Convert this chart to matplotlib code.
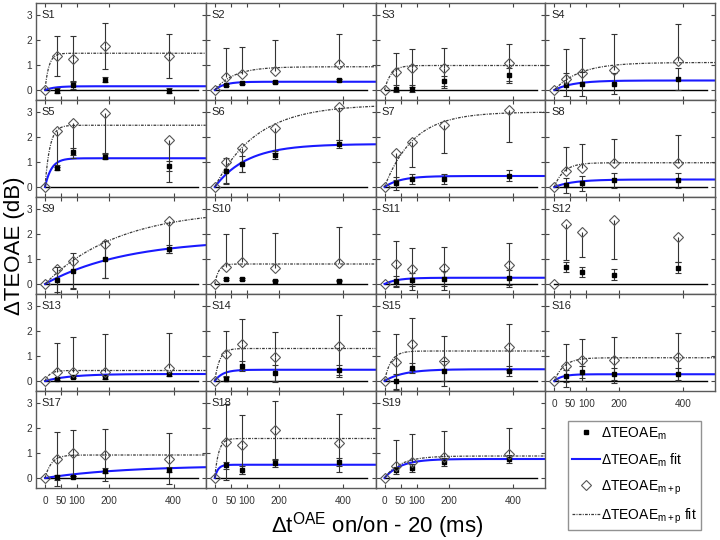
import matplotlib
matplotlib.use('Agg')
import matplotlib.pyplot as plt
import numpy as np
from matplotlib.lines import Line2D

plt.rcParams['font.family'] = ['Liberation Sans', 'DejaVu Sans']
plt.rcParams['mathtext.fontset'] = 'custom'
plt.rcParams['mathtext.rm'] = 'Liberation Sans'
plt.rcParams['mathtext.it'] = 'Liberation Sans:italic'
plt.rcParams['mathtext.bf'] = 'Liberation Sans:bold'

# ---------------- data ----------------
subjects = ['S%d' % k for k in range(1, 20)]
dt = [36, 86, 186, 386]                      # delta t (ms)
xticks = [0, 50, 100, 200, 400]
xticklabels = ['0', '50', '100', '200', '400']
yticks = [0, 1, 2, 3]
yticklabels = ['0', '1', '2', '3']

# Delta TEOAE_m (squares) and its SD
m_mean = [
    [-0.03, 0.20, 0.40, -0.03], [0.20, 0.27, 0.32, 0.39], [0.05, 0.05, 0.36, 0.61], [0.21, 0.24, 0.25, 0.44],
    [0.77, 1.41, 1.21, 0.85], [0.65, 0.92, 1.28, 1.72], [0.15, 0.33, 0.32, 0.45], [0.08, 0.16, 0.27, 0.27],
    [0.16, 0.52, 0.99, 1.40], [0.19, 0.19, 0.13, 0.13], [0.12, 0.17, 0.21, 0.25], [0.67, 0.47, 0.37, 0.65],
    [0.09, 0.16, 0.15, 0.27], [0.09, 0.60, 0.33, 0.45], [0.00, 0.53, 0.40, 0.40], [0.20, 0.36, 0.29, 0.27],
    [0.04, 0.05, 0.29, 0.33], [0.51, 0.32, 0.59, 0.65], [0.31, 0.41, 0.64, 0.77]]
m_sd = [
    [0.10, 0.15, 0.10, 0.10], [0.05, 0.05, 0.05, 0.05], [0.15, 0.15, 0.20, 0.25], [0.45, 0.47, 0.43, 0.43],
    [0.10, 0.15, 0.10, 0.20], [0.50, 0.30, 0.15, 0.15], [0.25, 0.20, 0.20, 0.22], [0.30, 0.30, 0.30, 0.30],
    [0.50, 0.70, 0.74, 0.15], [0.03, 0.03, 0.03, 0.03], [0.20, 0.27, 0.30, 0.30], [0.20, 0.20, 0.23, 0.22],
    [0.05, 0.05, 0.05, 0.05], [0.10, 0.20, 0.33, 0.20], [0.30, 0.20, 0.40, 0.20], [0.25, 0.25, 0.25, 0.25],
    [0.10, 0.05, 0.10, 0.10], [0.15, 0.15, 0.15, 0.15], [0.15, 0.15, 0.15, 0.15]]

# Delta TEOAE_m+p (diamonds) with upper / lower error bar lengths (0 = not drawn)
mp_mean = [
    [1.37, 1.24, 1.76, 1.36], [0.53, 0.64, 0.77, 1.03], [0.72, 0.89, 0.89, 1.07], [0.44, 0.68, 0.80, 1.15],
    [2.24, 2.57, 2.95, 1.88], [0.99, 1.57, 2.37, 3.21], [1.35, 1.81, 2.48, 3.08], [0.64, 0.75, 0.97, 0.97],
    [0.59, 0.92, 1.59, 2.53], [0.68, 0.87, 0.63, 0.83], [0.80, 0.60, 0.63, 0.76], [2.40, 2.09, 2.56, 1.89],
    [0.37, 0.37, 0.37, 0.53], [1.08, 1.48, 0.97, 1.40], [0.75, 1.48, 0.81, 1.35], [0.61, 0.84, 0.84, 0.97],
    [0.76, 1.00, 0.92, 0.78], [1.44, 1.33, 1.93, 1.40], [0.48, 0.65, 0.85, 0.95]]
mp_err_up = [
    [0.80, 0.92, 0.91, 0.89], [1.14, 1.09, 1.24, 1.21], [0.77, 0.76, 0.80, 0.78], [1.19, 1.39, 1.44, 1.49],
    [0, 0, 0, 0], [0, 0, 0, 0], [0, 0, 0, 0], [0.97, 0.97, 0.95, 1.12],
    [0, 0, 0, 0], [1.31, 1.36, 1.40, 1.46], [0.93, 0.83, 0.86, 0.89], [0, 0, 0, 0],
    [1.16, 1.40, 1.50, 1.40], [0.92, 1.00, 1.00, 1.23], [1.12, 1.03, 1.00, 0.92], [0.86, 0.84, 0.93, 0.94],
    [1.07, 0.93, 1.04, 1.02], [1.51, 1.18, 1.15, 1.17], [1.04, 1.10, 1.02, 1.05]]
mp_err_lo = [
    [0.80, 0.92, 0.91, 0.89], [0, 0, 0, 0], [0.77, 0.76, 0.80, 0.78], [0, 0, 0, 0],
    [1.44, 1.42, 1.58, 1.67], [0.87, 0.96, 1.02, 1.33], [1.07, 1.00, 1.11, 1.29], [0, 0, 0, 0],
    [1.00, 1.13, 1.34, 1.30], [0, 0, 0, 0], [0.93, 0.83, 0.86, 0.89], [1.44, 1.00, 1.56, 1.00],
    [0, 0, 0, 0], [0.92, 1.00, 1.00, 1.23], [1.12, 1.03, 1.00, 0.92], [0.86, 0.84, 0.93, 0.94],
    [1.07, 0.93, 1.04, 1.02], [1.51, 1.18, 1.15, 1.17], [0, 0, 0, 0]]

# exponential fit parameters  y = A * (1 - exp(-t / tau)); None = no fit shown
fit_m_amp = [0.15, 0.33, None, 0.38, 1.15, 1.72, 0.44, 0.30, 1.80, None,
             0.25, None, 0.28, 0.45, 0.47, 0.27, 0.50, 0.53, 0.76]
fit_m_tau = [30, 30, None, 60, 20, 100, 50, 60, 250, None,
             40, None, 80, 25, 60, 25, 250, 10, 50]
fit_mp_amp = [1.47, 0.93, 0.98, 1.10, 2.47, 3.30, 3.00, 0.97, 3.00, 0.80,
              None, None, 0.42, 1.30, 1.20, 0.93, 0.92, 1.58, 0.88]
fit_mp_tau = [12, 60, 20, 80, 15, 130, 90, 30, 230, 12,
              None, None, 15, 15, 20, 30, 20, 12, 50]

# ---------------- style ----------------
BLUE = '#1a1aff'
DOT_LS = (0, (2.2, 1.0, 0.8, 1.0))
ERR_C = '#333333'
DIAM_C = '#555555'
SPINE_C = '#5a5a5a'

fig = plt.figure(figsize=(7.2, 5.4), dpi=100)
FW, FH = 720.0, 540.0
col_x = [36, 205.75, 375.5, 545.25]
PW = 169.75
row_y = [3, 100, 197, 294, 391]
PH = 97

xf = np.linspace(0, 500, 400)


def half_bars(ax, x, y, err, sign):
    xs = [xi for xi, e in zip(x, err) if e > 0]
    y0 = [yi for yi, e in zip(y, err) if e > 0]
    y1 = [yi + sign * e for yi, e in zip(y, err) if e > 0]
    if xs:
        ax.vlines(xs, y0, y1, color=ERR_C, lw=0.8, zorder=3)
        ax.plot(xs, y1, ls='none', marker='_', ms=4.5, mew=0.8, color=ERR_C, zorder=3)


for i, s in enumerate(subjects):
    r, c = divmod(i, 4)
    ax = fig.add_axes([col_x[c] / FW, 1 - (row_y[r] + PH) / FH, PW / FW, PH / FH])
    ax.set_xlim(-28, 500)
    ax.set_ylim(-0.4, 3.48)
    ax.plot([0, 475], [0, 0], color='k', lw=1.0, zorder=1)

    # squares with symmetric SD
    half_bars(ax, dt, m_mean[i], m_sd[i], +1)
    half_bars(ax, dt, m_mean[i], m_sd[i], -1)
    ax.plot(dt, m_mean[i], ls='none', marker='s', ms=3.3, mfc='k', mec='k', zorder=4)
    if fit_m_amp[i] is not None:
        ax.plot(xf, fit_m_amp[i] * (1 - np.exp(-xf / fit_m_tau[i])), color=BLUE, lw=1.5, zorder=2)

    # diamonds
    half_bars(ax, dt, mp_mean[i], mp_err_up[i], +1)
    half_bars(ax, dt, mp_mean[i], mp_err_lo[i], -1)
    ax.plot([0] + dt, [0] + mp_mean[i], ls='none', marker='D', ms=5, mfc='none', mec=DIAM_C, mew=0.8, zorder=5)
    if fit_mp_amp[i] is not None:
        ax.plot(xf, fit_mp_amp[i] * (1 - np.exp(-xf / fit_mp_tau[i])), color='#3a3a3a', lw=0.9,
                ls=DOT_LS, zorder=2)

    ax.set_xticks(xticks)
    ax.set_yticks(yticks)
    ax.tick_params(direction='in', length=3, width=0.8, color='#444444', top=True, right=True,
                   labelsize=7.2, labelcolor='#333333', pad=3)
    ax.tick_params(axis='x', pad=6)
    if c == 0:
        ax.set_yticklabels(yticklabels)
    else:
        ax.set_yticklabels([])
    if i in (15, 16, 17, 18):
        ax.set_xticklabels(xticklabels)
    else:
        ax.set_xticklabels([])
    for sp in ax.spines.values():
        sp.set_color(SPINE_C)
        sp.set_linewidth(1.0)
    ax.text(0.035, 0.875, s, transform=ax.transAxes, fontsize=8, ha='left', va='center', color='#222222')

# legend
handles = [
    Line2D([], [], ls='none', marker='s', ms=3.3, mfc='k', mec='k'),
    Line2D([], [], color=BLUE, lw=1.5),
    Line2D([], [], ls='none', marker='D', ms=5, mfc='none', mec=DIAM_C, mew=0.8),
    Line2D([], [], color='#3a3a3a', lw=0.9, ls=DOT_LS),
]
labels = [r'ΔTEOAE$_{\rm m}$', r'ΔTEOAE$_{\rm m}$ fit', r'ΔTEOAE$_{\rm m+p}$', r'ΔTEOAE$_{\rm m+p}$ fit']
leg = fig.legend(handles, labels, loc='upper left', bbox_to_anchor=(568 / FW, 1 - 421 / FH),
                 frameon=True, fancybox=False, edgecolor='#777777', fontsize=10,
                 handlelength=2.0, handletextpad=0.1, borderpad=0.3, labelspacing=0.7,
                 borderaxespad=0)
leg.get_frame().set_linewidth(1.0)

fig.text(15 / FW, 1 - 245.5 / FH, 'ΔTEOAE (dB)', rotation=90, fontsize=16, ha='center', va='center')
fig.text(377 / FW, 1 - 526 / FH, r'Δt$^{\rm OAE}$ on/on - 20 (ms)', fontsize=16, ha='center', va='center')

fig.savefig('out.png', dpi=100)
